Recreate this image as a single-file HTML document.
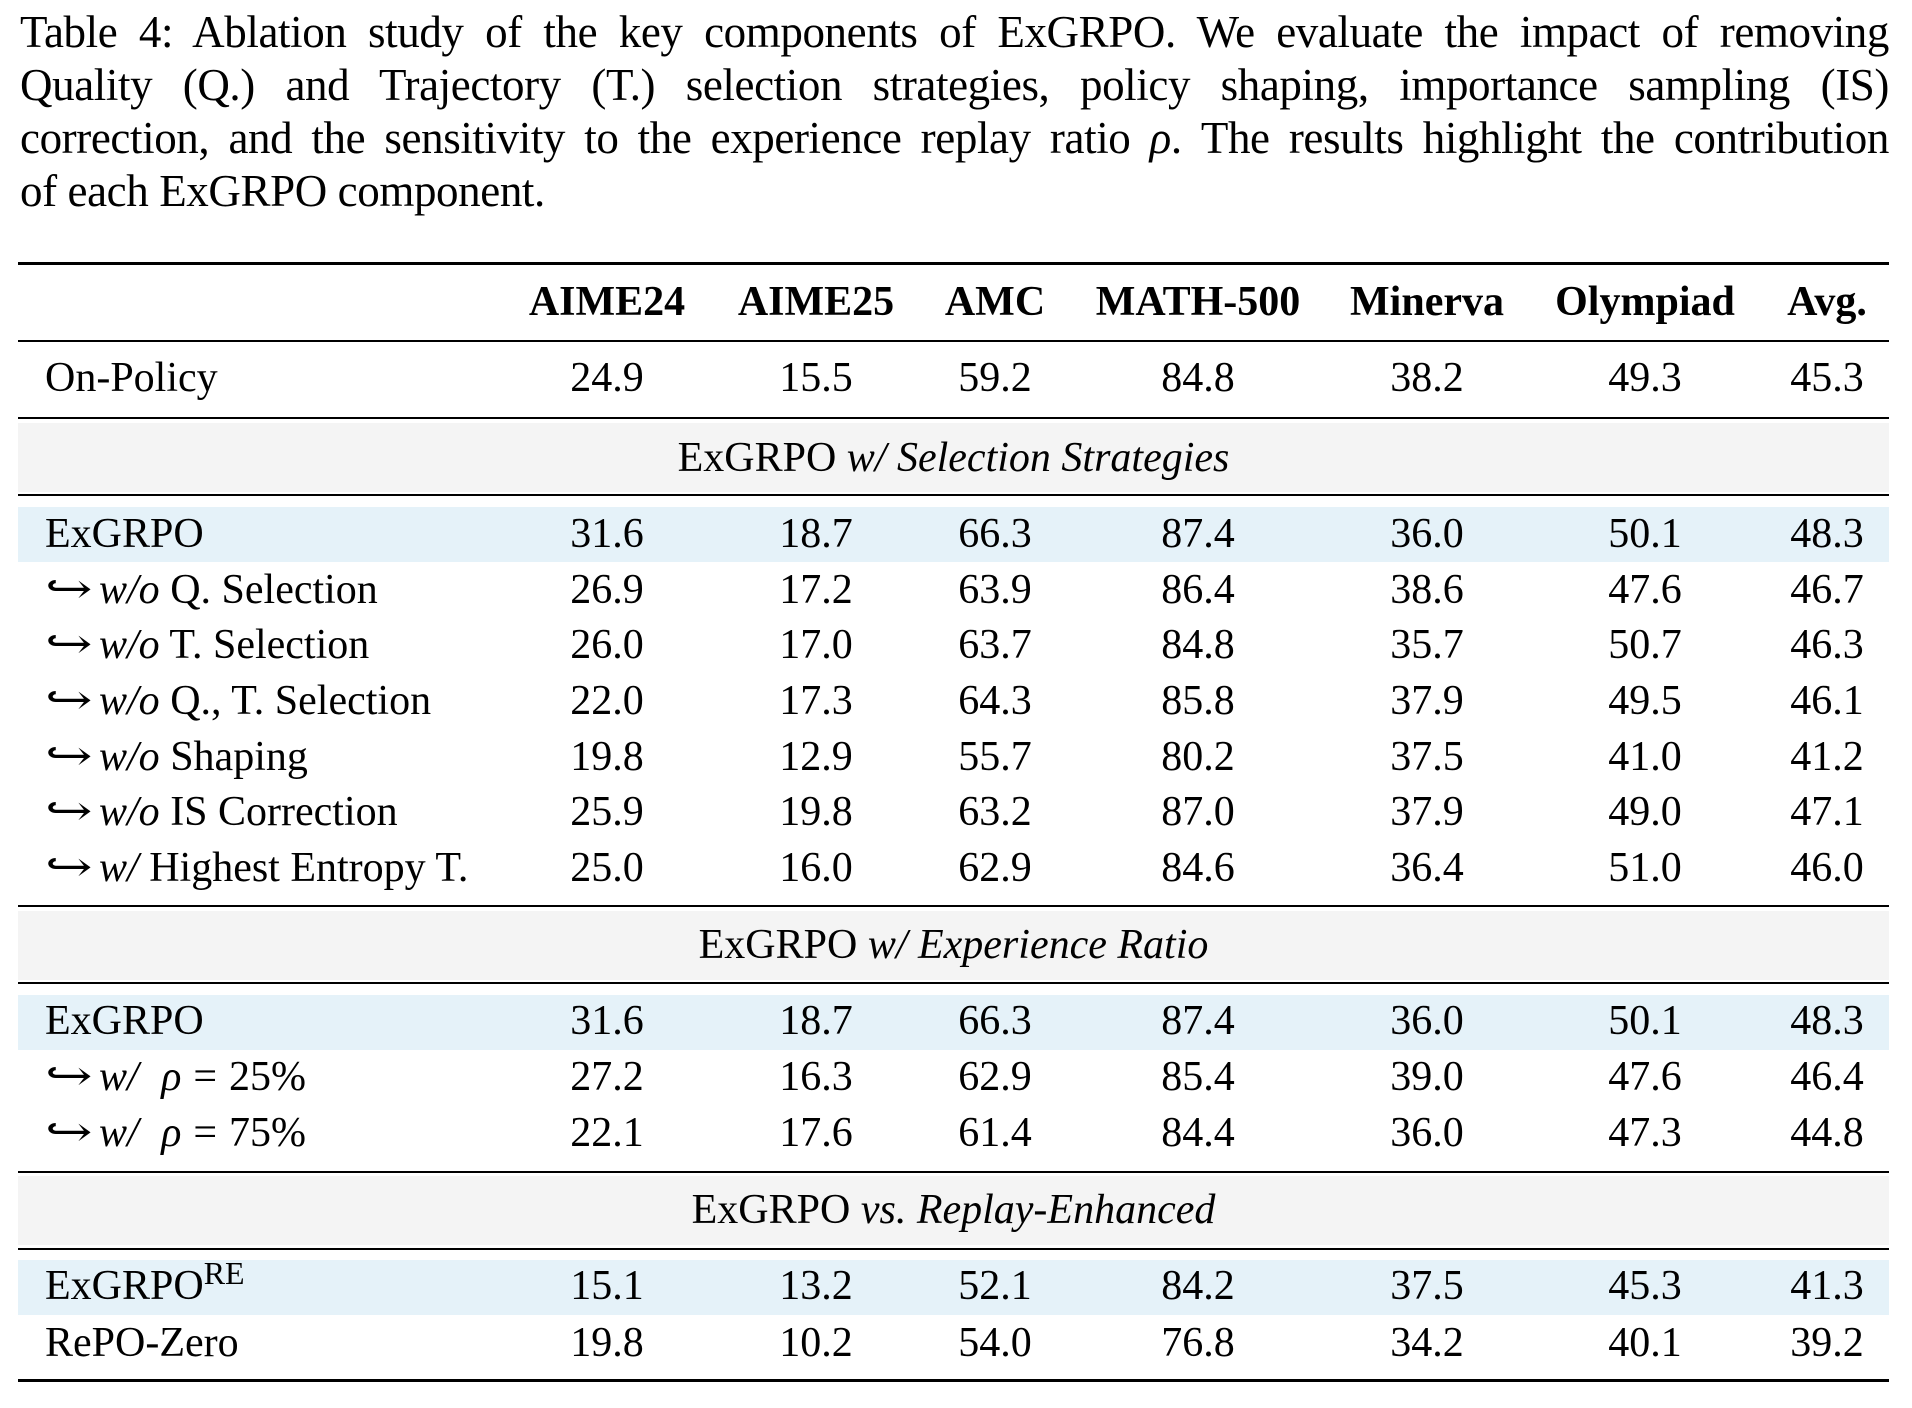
<!DOCTYPE html>
<html><head><meta charset="utf-8"><style>
html,body{margin:0;padding:0;background:#fff;}
body{width:1912px;height:1408px;position:relative;overflow:hidden;font-family:"Liberation Serif","DejaVu Serif",serif;color:#000;}
.cap{position:absolute;left:20px;width:1869px;font-size:45px;letter-spacing:-0.4px;line-height:53px;white-space:nowrap;}
.j{text-align:justify;text-align-last:justify;white-space:normal;}
.r{position:absolute;left:18px;width:1871px;background:#000;}
.band{position:absolute;left:18px;width:1871px;}
.g{background:#f4f4f4;}
.b{background:#e5f2f9;}
.row{position:absolute;left:0;width:1912px;height:56px;line-height:56px;font-size:42px;}
.row span{position:absolute;top:0;white-space:nowrap;}
.row span.a{position:static;display:inline-block;transform:scaleX(1.35);transform-origin:left center;width:40px;margin-right:14px;}
.row span.s{position:static;display:inline-block;width:12px;}
.lab{left:45px;}
.c{transform:translateX(-50%);}
.hd{font-weight:bold;}
.sec{position:absolute;left:18px;width:1871px;text-align:center;font-size:42px;line-height:56px;height:56px;}
</style></head><body>
<div class="cap j" style="top:6px;">Table 4: Ablation study of the key components of ExGRPO. We evaluate the impact of removing</div>
<div class="cap j" style="top:59px;">Quality (Q.) and Trajectory (T.) selection strategies, policy shaping, importance sampling (IS)</div>
<div class="cap j" style="top:112px;">correction, and the sensitivity to the experience replay ratio <i>ρ</i>. The results highlight the contribution</div>
<div class="cap" style="top:165px;">of each ExGRPO component.</div>

<div class="r" style="top:262px;height:3px;"></div>
<div class="r" style="top:340px;height:2px;"></div>
<div class="r" style="top:417px;height:2px;"></div>
<div class="band g" style="top:423px;height:69px;"></div>
<div class="r" style="top:494px;height:2px;"></div>
<div class="band b" style="top:507px;height:55px;"></div>
<div class="r" style="top:905px;height:2px;"></div>
<div class="band g" style="top:911px;height:69px;"></div>
<div class="r" style="top:982px;height:2px;"></div>
<div class="band b" style="top:995px;height:55px;"></div>
<div class="r" style="top:1171px;height:2px;"></div>
<div class="band g" style="top:1176px;height:69px;"></div>
<div class="r" style="top:1248px;height:2px;"></div>
<div class="band b" style="top:1260px;height:55px;"></div>
<div class="r" style="top:1379px;height:3px;"></div>

<div class="row hd" style="top:274px;">
<span class="c" style="left:607px">AIME24</span><span class="c" style="left:816px">AIME25</span><span class="c" style="left:995px">AMC</span><span class="c" style="left:1198px">MATH-500</span><span class="c" style="left:1427px">Minerva</span><span class="c" style="left:1645px">Olympiad</span><span class="c" style="left:1827px">Avg.</span>
</div>

<div class="row" style="top:350px;"><span class="lab">On-Policy</span>
<span class="c" style="left:607px">24.9</span><span class="c" style="left:816px">15.5</span><span class="c" style="left:995px">59.2</span><span class="c" style="left:1198px">84.8</span><span class="c" style="left:1427px">38.2</span><span class="c" style="left:1645px">49.3</span><span class="c" style="left:1827px">45.3</span></div>

<div class="sec" style="top:430px;">ExGRPO <i>w/ Selection Strategies</i></div>

<div class="row" style="top:506px;"><span class="lab">ExGRPO</span>
<span class="c" style="left:607px">31.6</span><span class="c" style="left:816px">18.7</span><span class="c" style="left:995px">66.3</span><span class="c" style="left:1198px">87.4</span><span class="c" style="left:1427px">36.0</span><span class="c" style="left:1645px">50.1</span><span class="c" style="left:1827px">48.3</span></div>
<div class="row" style="top:562px;"><span class="lab"><span class="a">↪</span><i>w/o</i> Q. Selection</span>
<span class="c" style="left:607px">26.9</span><span class="c" style="left:816px">17.2</span><span class="c" style="left:995px">63.9</span><span class="c" style="left:1198px">86.4</span><span class="c" style="left:1427px">38.6</span><span class="c" style="left:1645px">47.6</span><span class="c" style="left:1827px">46.7</span></div>
<div class="row" style="top:617px;"><span class="lab"><span class="a">↪</span><i>w/o</i> T. Selection</span>
<span class="c" style="left:607px">26.0</span><span class="c" style="left:816px">17.0</span><span class="c" style="left:995px">63.7</span><span class="c" style="left:1198px">84.8</span><span class="c" style="left:1427px">35.7</span><span class="c" style="left:1645px">50.7</span><span class="c" style="left:1827px">46.3</span></div>
<div class="row" style="top:673px;"><span class="lab"><span class="a">↪</span><i>w/o</i> Q., T. Selection</span>
<span class="c" style="left:607px">22.0</span><span class="c" style="left:816px">17.3</span><span class="c" style="left:995px">64.3</span><span class="c" style="left:1198px">85.8</span><span class="c" style="left:1427px">37.9</span><span class="c" style="left:1645px">49.5</span><span class="c" style="left:1827px">46.1</span></div>
<div class="row" style="top:729px;"><span class="lab"><span class="a">↪</span><i>w/o</i> Shaping</span>
<span class="c" style="left:607px">19.8</span><span class="c" style="left:816px">12.9</span><span class="c" style="left:995px">55.7</span><span class="c" style="left:1198px">80.2</span><span class="c" style="left:1427px">37.5</span><span class="c" style="left:1645px">41.0</span><span class="c" style="left:1827px">41.2</span></div>
<div class="row" style="top:784px;"><span class="lab"><span class="a">↪</span><i>w/o</i> IS Correction</span>
<span class="c" style="left:607px">25.9</span><span class="c" style="left:816px">19.8</span><span class="c" style="left:995px">63.2</span><span class="c" style="left:1198px">87.0</span><span class="c" style="left:1427px">37.9</span><span class="c" style="left:1645px">49.0</span><span class="c" style="left:1827px">47.1</span></div>
<div class="row" style="top:840px;"><span class="lab"><span class="a">↪</span><i>w/</i> Highest Entropy T.</span>
<span class="c" style="left:607px">25.0</span><span class="c" style="left:816px">16.0</span><span class="c" style="left:995px">62.9</span><span class="c" style="left:1198px">84.6</span><span class="c" style="left:1427px">36.4</span><span class="c" style="left:1645px">51.0</span><span class="c" style="left:1827px">46.0</span></div>

<div class="sec" style="top:917px;">ExGRPO <i>w/ Experience Ratio</i></div>

<div class="row" style="top:993px;"><span class="lab">ExGRPO</span>
<span class="c" style="left:607px">31.6</span><span class="c" style="left:816px">18.7</span><span class="c" style="left:995px">66.3</span><span class="c" style="left:1198px">87.4</span><span class="c" style="left:1427px">36.0</span><span class="c" style="left:1645px">50.1</span><span class="c" style="left:1827px">48.3</span></div>
<div class="row" style="top:1049px;"><span class="lab"><span class="a">↪</span><i>w/</i><span class="s"></span> <i>ρ</i><span class="s"></span>=<span class="s"></span>25%</span>
<span class="c" style="left:607px">27.2</span><span class="c" style="left:816px">16.3</span><span class="c" style="left:995px">62.9</span><span class="c" style="left:1198px">85.4</span><span class="c" style="left:1427px">39.0</span><span class="c" style="left:1645px">47.6</span><span class="c" style="left:1827px">46.4</span></div>
<div class="row" style="top:1105px;"><span class="lab"><span class="a">↪</span><i>w/</i><span class="s"></span> <i>ρ</i><span class="s"></span>=<span class="s"></span>75%</span>
<span class="c" style="left:607px">22.1</span><span class="c" style="left:816px">17.6</span><span class="c" style="left:995px">61.4</span><span class="c" style="left:1198px">84.4</span><span class="c" style="left:1427px">36.0</span><span class="c" style="left:1645px">47.3</span><span class="c" style="left:1827px">44.8</span></div>

<div class="sec" style="top:1182px;">ExGRPO <i>vs. Replay-Enhanced</i></div>

<div class="row" style="top:1258px;"><span class="lab">ExGRPO<sup style="font-size:32px;line-height:0;">RE</sup></span>
<span class="c" style="left:607px">15.1</span><span class="c" style="left:816px">13.2</span><span class="c" style="left:995px">52.1</span><span class="c" style="left:1198px">84.2</span><span class="c" style="left:1427px">37.5</span><span class="c" style="left:1645px">45.3</span><span class="c" style="left:1827px">41.3</span></div>
<div class="row" style="top:1315px;"><span class="lab">RePO-Zero</span>
<span class="c" style="left:607px">19.8</span><span class="c" style="left:816px">10.2</span><span class="c" style="left:995px">54.0</span><span class="c" style="left:1198px">76.8</span><span class="c" style="left:1427px">34.2</span><span class="c" style="left:1645px">40.1</span><span class="c" style="left:1827px">39.2</span></div>
</body></html>
